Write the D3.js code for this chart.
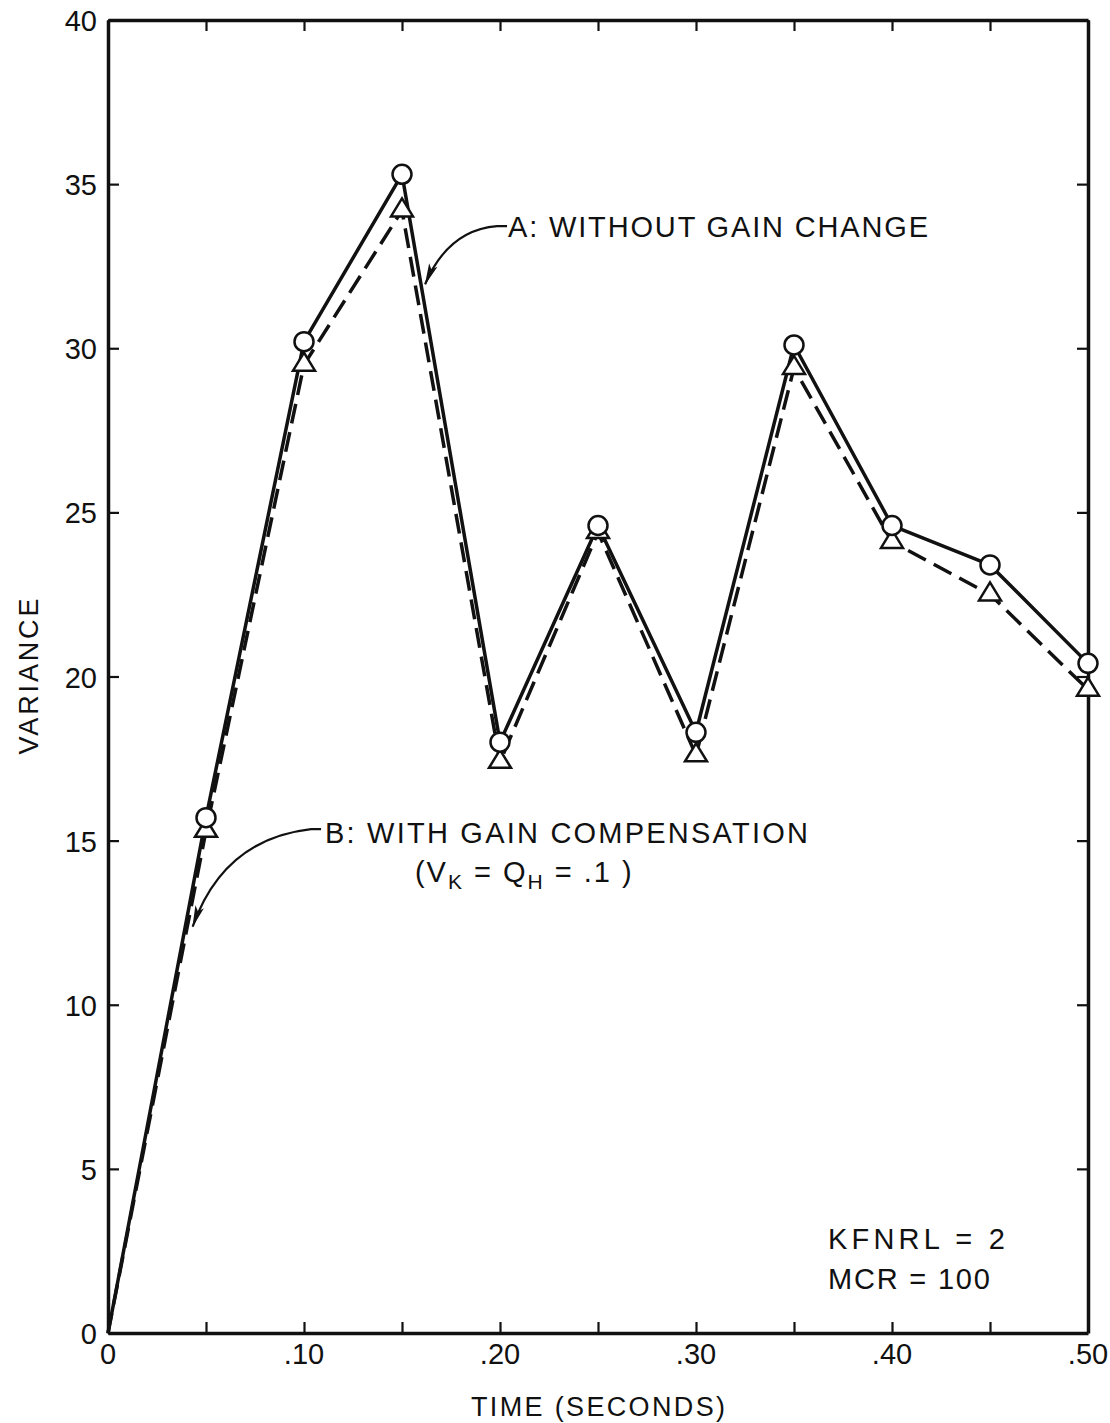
<!DOCTYPE html>
<html>
<head>
<meta charset="utf-8">
<script src="https://cdn.jsdelivr.net/npm/d3@7"></script>
<style>
  html, body { margin: 0; padding: 0; background: #fff; }
  svg { display: block; }
  text { font-family: "Liberation Sans", Arial, sans-serif; fill: #111; }
</style>
</head>
<body>
<svg id="chart" width="1110" height="1423"></svg>
<script>
// Sample times (seconds)
const time = [0, 0.05, 0.10, 0.15, 0.20, 0.25, 0.30, 0.35, 0.40, 0.45, 0.50];
// Curve A: without gain change
const varianceA = [0, 15.7, 30.2, 35.3, 18.0, 24.6, 18.3, 30.1, 24.6, 23.4, 20.4];
// Curve B: with gain compensation
const varianceB = [0, 15.3, 29.5, 34.2, 17.4, 24.4, 17.6, 29.4, 24.1, 22.5, 19.6];

const xTicks = [0, 0.05, 0.10, 0.15, 0.20, 0.25, 0.30, 0.35, 0.40, 0.45, 0.50];
const xTickLabels = ["0", "", ".10", "", ".20", "", ".30", "", ".40", "", ".50"];
const yTicks = [0, 5, 10, 15, 20, 25, 30, 35, 40];
const yTickLabels = ["0", "5", "10", "15", "20", "25", "30", "35", "40"];

(function draw() {
  const svg = d3.select("#chart");
  const plotL = 108, plotR = 1088, plotT = 20, plotB = 1333;

  const x = d3.scaleLinear().domain([0, 0.5]).range([plotL, plotR]);
  const y = d3.scaleLinear().domain([0, 40]).range([plotB, plotT]);

  const INK = "#111";
  const tickLen = 11;

  // Frame with inward ticks on all four sides
  const axisBottom = d3.axisBottom(x).tickValues(xTicks).tickSizeInner(-tickLen).tickSizeOuter(0).tickFormat("");
  const axisTop = d3.axisTop(x).tickValues(xTicks).tickSizeInner(-tickLen).tickSizeOuter(0).tickFormat("");
  const axisLeft = d3.axisLeft(y).tickValues(yTicks).tickSizeInner(-tickLen).tickSizeOuter(0).tickFormat("");
  const axisRight = d3.axisRight(y).tickValues(yTicks).tickSizeInner(-tickLen).tickSizeOuter(0).tickFormat("");

  function styleAxis(g) {
    g.select(".domain").attr("stroke", INK).attr("stroke-width", 3.5);
    g.selectAll(".tick line").attr("stroke", INK).attr("stroke-width", 2.2);
  }
  svg.append("g").attr("transform", `translate(0,${plotB})`).call(axisBottom).call(styleAxis);
  svg.append("g").attr("transform", `translate(0,${plotT})`).call(axisTop).call(styleAxis);
  svg.append("g").attr("transform", `translate(${plotL},0)`).call(axisLeft).call(styleAxis);
  svg.append("g").attr("transform", `translate(${plotR},0)`).call(axisRight).call(styleAxis);

  // Tick labels
  svg.append("g").selectAll("text").data(xTicks).join("text")
    .attr("x", d => x(d))
    .attr("y", plotB + 31)
    .attr("text-anchor", "middle")
    .attr("font-size", 29)
    .text((d, i) => xTickLabels[i]);

  svg.append("g").selectAll("text").data(yTicks).join("text")
    .attr("x", plotL - 11)
    .attr("y", d => y(d) + 11)
    .attr("text-anchor", "end")
    .attr("font-size", 29)
    .text((d, i) => yTickLabels[i]);

  // Axis titles
  svg.append("text")
    .attr("x", (plotL + plotR) / 2)
    .attr("y", plotB + 83)
    .attr("text-anchor", "middle")
    .attr("font-size", 27)
    .attr("textLength", 254).attr("lengthAdjust", "spacing")
    .text("TIME (SECONDS)");

  svg.append("text")
    .attr("transform", `translate(38,${(plotT + plotB) / 2}) rotate(-90)`)
    .attr("text-anchor", "middle")
    .attr("font-size", 27)
    .attr("textLength", 156).attr("lengthAdjust", "spacing")
    .text("VARIANCE");

  // Curves
  const pts = arr => time.map((t, i) => [t, arr[i]]);
  const line = d3.line().x(d => x(d[0])).y(d => y(d[1]));

  svg.append("path")
    .attr("d", line(pts(varianceB)))
    .attr("fill", "none").attr("stroke", INK).attr("stroke-width", 3.5)
    .attr("stroke-dasharray", "20 9").attr("stroke-linejoin", "round");

  svg.append("path")
    .attr("d", line(pts(varianceA)))
    .attr("fill", "none").attr("stroke", INK).attr("stroke-width", 3.5)
    .attr("stroke-linejoin", "round");

  // Triangle markers (curve B), centroid on the data point
  function trianglePath(w, h) {
    const p = d3.path();
    p.moveTo(0, -2 * h / 3);
    p.lineTo(w / 2, h / 3);
    p.lineTo(-w / 2, h / 3);
    p.closePath();
    return p.toString();
  }
  const triPts = pts(varianceB).slice(1);
  svg.append("g").selectAll("path").data(triPts).join("path")
    .attr("transform", d => `translate(${x(d[0])},${y(d[1])})`)
    .attr("d", trianglePath(22, 18))
    .attr("fill", "#fff").attr("stroke", INK).attr("stroke-width", 2.5)
    .attr("stroke-linejoin", "miter");

  // Circle markers (curve A)
  const circPts = pts(varianceA).slice(1);
  svg.append("g").selectAll("circle").data(circPts).join("circle")
    .attr("cx", d => x(d[0])).attr("cy", d => y(d[1]))
    .attr("r", 9.5)
    .attr("fill", "#fff").attr("stroke", INK).attr("stroke-width", 2.5);

  // Arrowhead
  svg.append("defs").append("marker")
    .attr("id", "arrow")
    .attr("viewBox", "0 0 22 10")
    .attr("refX", 21).attr("refY", 5)
    .attr("markerWidth", 22).attr("markerHeight", 10)
    .attr("markerUnits", "userSpaceOnUse")
    .attr("orient", "auto")
    .append("path")
    .attr("d", "M0,0.5 L22,5 L0,9.5 L5,5 Z")
    .attr("fill", INK);

  function leader(p0, p1, c, p2) {
    const p = d3.path();
    p.moveTo(x(p0[0]), y(p0[1]));
    p.lineTo(x(p1[0]), y(p1[1]));
    p.quadraticCurveTo(x(c[0]), y(c[1]), x(p2[0]), y(p2[1]));
    return p.toString();
  }

  // Annotation A
  svg.append("path")
    .attr("d", leader([0.2036, 33.72], [0.1985, 33.72], [0.1735, 33.6], [0.1618, 31.95]))
    .attr("fill", "none").attr("stroke", INK).attr("stroke-width", 2.2)
    .attr("marker-end", "url(#arrow)");
  svg.append("text")
    .attr("x", x(0.2041)).attr("y", y(33.40))
    .attr("font-size", 29)
    .attr("textLength", 420).attr("lengthAdjust", "spacing")
    .text("A: WITHOUT  GAIN  CHANGE");

  // Annotation B
  svg.append("path")
    .attr("d", leader([0.1087, 15.35], [0.1036, 15.35], [0.0590, 15.05], [0.0432, 12.38]))
    .attr("fill", "none").attr("stroke", INK).attr("stroke-width", 2.2)
    .attr("marker-end", "url(#arrow)");
  svg.append("text")
    .attr("x", x(0.1107)).attr("y", y(14.94))
    .attr("font-size", 29)
    .attr("textLength", 483).attr("lengthAdjust", "spacing")
    .text("B: WITH  GAIN  COMPENSATION");

  const sub = svg.append("text")
    .attr("x", x(0.1566)).attr("y", y(13.75))
    .attr("font-size", 29)
    .attr("letter-spacing", 2);
  sub.append("tspan").text("(V");
  sub.append("tspan").attr("dy", 7).attr("font-size", 21).text("K");
  sub.append("tspan").attr("dy", -7).text("  =  Q");
  sub.append("tspan").attr("dy", 7).attr("font-size", 21).text("H");
  sub.append("tspan").attr("dy", -7).text("  =  .1 )");

  // Run parameters
  svg.append("text")
    .attr("x", x(0.3673)).attr("y", y(2.57))
    .attr("font-size", 29)
    .attr("textLength", 177).attr("lengthAdjust", "spacing")
    .text("KFNRL = 2");
  svg.append("text")
    .attr("x", x(0.3673)).attr("y", y(1.35))
    .attr("font-size", 29)
    .attr("textLength", 162).attr("lengthAdjust", "spacing")
    .text("MCR = 100");
})();
</script>
</body>
</html>
